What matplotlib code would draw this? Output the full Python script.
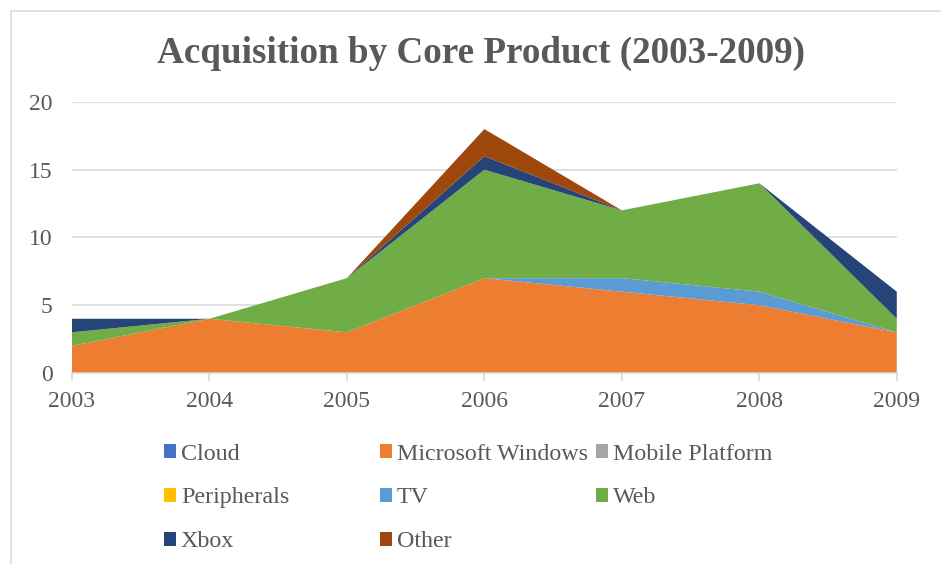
import numpy as np
import matplotlib.pyplot as plt
from matplotlib.patches import Patch, Rectangle

# ─── data ─────────────────────────────────────────────
years       = [2003, 2004, 2005, 2006, 2007, 2008, 2009]
cloud       = [0, 0, 0, 0, 0, 0, 0]
windows     = [2, 4, 3, 7, 6, 5, 3]
mobile      = [0, 0, 0, 0, 0, 0, 0]
peripherals = [0, 0, 0, 0, 0, 0, 0]
tv          = [0, 0, 0, 0, 1, 1, 0]
web         = [1, 0, 4, 8, 5, 8, 1]
xbox        = [1, 0, 0, 1, 0, 0, 2]
other       = [0, 0, 0, 2, 0, 0, 0]

labels = ['Cloud', 'Microsoft Windows', 'Mobile Platform', 'Peripherals',
          'TV', 'Web', 'Xbox', 'Other']
colors = ['#4472C4', '#ED7D31', '#A5A5A5', '#FFC000',
          '#5B9BD5', '#70AD47', '#264478', '#9E480E']
series = [cloud, windows, mobile, peripherals, tv, web, xbox, other]

txt_col = '#595959'
plt.rcParams['font.family'] = ['Liberation Serif', 'DejaVu Serif']

fig = plt.figure(figsize=(9.41, 5.64), dpi=100)
ax = fig.add_axes([0.0765, 0.3387, 0.8765, 0.4805])

polys = ax.stackplot(years, *series, colors=colors, labels=labels,
                     linewidth=0)

ax.set_xlim(2003, 2009)
ax.set_ylim(0, 20)
ax.set_yticks([0, 5, 10, 15, 20])
ax.set_xticks(years)
ax.grid(axis='y', color='#D9D9D9', linewidth=1.2)
ax.set_axisbelow(True)
for s in ['top', 'right', 'left']:
    ax.spines[s].set_visible(False)
ax.spines['bottom'].set_color('#D9D9D9')
ax.spines['bottom'].set_linewidth(1.2)
ax.spines['bottom'].set_zorder(5)
ax.tick_params(axis='x', colors='#D9D9D9', length=6, width=1.2,
               labelcolor=txt_col, labelsize=17, pad=7)
ax.tick_params(axis='y', length=0, labelcolor=txt_col, labelsize=17, pad=14)

fig.text(0.511, 0.905, 'Acquisition by Core Product (2003-2009)',
         ha='center', va='center', fontsize=26.7, fontweight='bold',
         color=txt_col)

# ─── legend: 3 equally spaced columns, row-major order ─────────
handles = [Patch(facecolor=c, edgecolor='none') for c in colors]
col_x = [0.1743, 0.4038, 0.6334]
for ci in range(3):
    idx = list(range(ci, len(labels), 3))
    leg = fig.legend([handles[i] for i in idx], [labels[i] for i in idx],
                     loc='upper left', bbox_to_anchor=(col_x[ci], 0.2135),
                     frameon=False, fontsize=17.3, handlelength=0.5,
                     handleheight=0.5, handletextpad=0.2,
                     labelspacing=0.95, borderaxespad=0, borderpad=0)
    for t in leg.get_texts():
        t.set_color(txt_col)

# outer chart border
fig.patches.append(Rectangle((11 / 941, -0.1), 1.2, 1.1 - 11 / 564,
                             transform=fig.transFigure, fill=False,
                             edgecolor='#D9D9D9', linewidth=1.2))

fig.savefig('out.png', dpi=100)
